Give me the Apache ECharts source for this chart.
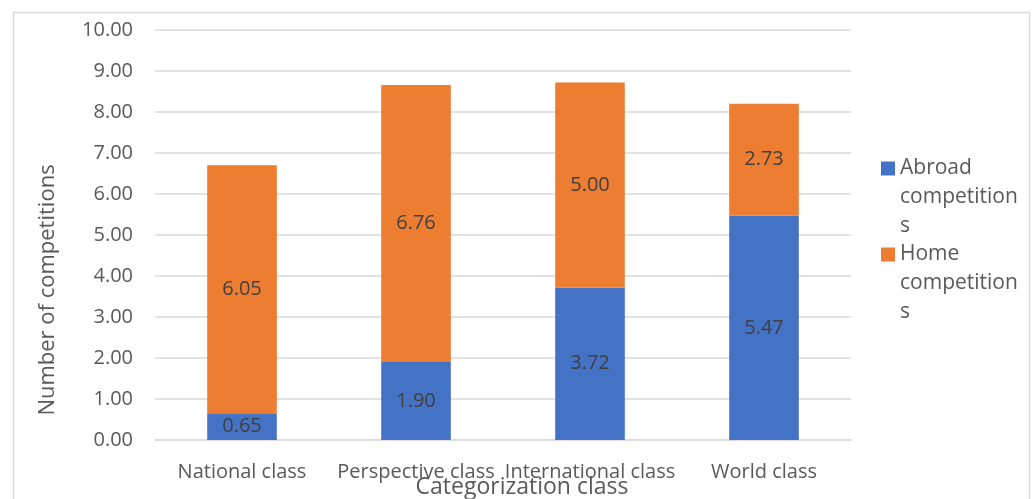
<!DOCTYPE html>
<html>
<head>
<meta charset="utf-8">
<script src="https://cdn.jsdelivr.net/npm/echarts@6/dist/echarts.min.js"></script>
<style>
  html, body { margin: 0; padding: 0; background: #fff; }
  #chart { width: 1032px; height: 499px; }
</style>
</head>
<body>
<div id="chart"></div>
<script>
const categories = ['National class', 'Perspective class', 'International class', 'World class'];
const abroad = [0.65, 1.90, 3.72, 5.47];
const home = [6.05, 6.76, 5.00, 2.73];
const seriesNames = ['Abroad competitions', 'Home competitions'];
// Excel wraps the legend text inside its narrow box; the two leading blank
// lines keep the first line level with the colour square
const legendText = {
  'Abroad competitions': '\n\nAbroad\ncompetition\ns',
  'Home competitions': '\n\nHome\ncompetition\ns'
};

const font = 'Open Sans';
const textColor = '#595959';

const chart = echarts.init(document.getElementById('chart'));

const barLabel = {
  show: true,
  position: 'inside',
  color: '#404040',
  fontSize: 20,
  fontFamily: font,
  formatter: p => p.value.toFixed(2)
};

chart.setOption({
  animation: false,
  textStyle: { fontFamily: font },
  graphic: [{
    type: 'rect',
    shape: { x: 13.5, y: 12.5, width: 1016, height: 500 },
    style: { fill: 'none', stroke: '#d9d9d9', lineWidth: 1.5 },
    silent: true
  }],
  grid: { left: 155, right: 181, top: 30, bottom: 59, outerBoundsMode: 'none' },
  legend: {
    orient: 'vertical',
    left: 881,
    top: 96,
    padding: 0,
    itemGap: -59,
    itemWidth: 14,
    itemHeight: 14,
    icon: 'rect',
    data: seriesNames,
    formatter: name => legendText[name],
    textStyle: {
      color: textColor,
      fontSize: 21,
      lineHeight: 29
    }
  },
  xAxis: {
    type: 'category',
    data: categories,
    name: 'Categorization class',
    nameLocation: 'middle',
    nameGap: 36,
    nameMoveOverlap: false,
    nameTextStyle: { color: textColor, fontSize: 23, padding: [0, 0, 0, 38] },
    axisLine: { lineStyle: { color: '#d9d9d9', width: 1.5 } },
    axisTick: { show: false },
    axisLabel: { color: textColor, fontSize: 20, margin: 22, interval: 0 }
  },
  yAxis: {
    type: 'value',
    min: 0,
    max: 10,
    interval: 1,
    name: 'Number of competitions',
    nameLocation: 'middle',
    nameGap: 96,
    nameMoveOverlap: false,
    nameTextStyle: { color: textColor, fontSize: 22, padding: [0, 110, 0, 0] },
    axisLine: { show: false },
    axisTick: { show: false },
    axisLabel: { color: textColor, fontSize: 20, margin: 22, formatter: v => v.toFixed(2) },
    splitLine: { lineStyle: { color: '#d9d9d9', width: 1.5 } }
  },
  series: [
    {
      name: seriesNames[0],
      type: 'bar',
      stack: 'total',
      barWidth: '40%',
      data: abroad,
      itemStyle: { color: '#4472C4' },
      label: barLabel
    },
    {
      name: seriesNames[1],
      type: 'bar',
      stack: 'total',
      barWidth: '40%',
      data: home,
      itemStyle: { color: '#ED7D31' },
      label: barLabel
    }
  ]
});
</script>
</body>
</html>
